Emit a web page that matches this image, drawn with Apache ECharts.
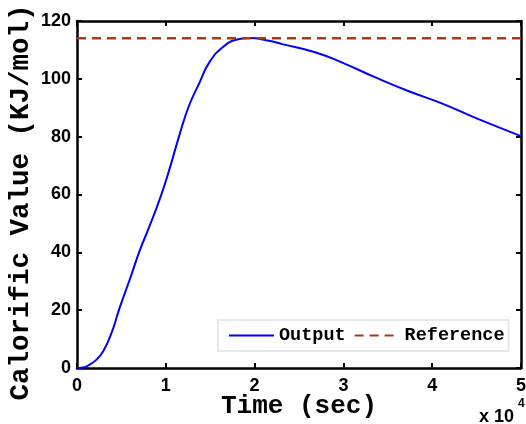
<!DOCTYPE html>
<html>
<head>
    <meta charset="utf-8">
    <title>Calorific Value</title>
    <script src="https://cdn.jsdelivr.net/npm/echarts@6/dist/echarts.min.js"></script>
    <style>
        html, body { margin: 0; padding: 0; background: #fff; }
        #main { width: 526px; height: 424px; }
    </style>
</head>
<body>
    <div id="main"></div>
    <script>
        // 数据：时间 (秒) 与输出热值
        const timeSec = [0, 500, 1100, 2200, 2950, 3900, 4800, 5950, 7050, 8000, 9300, 10400, 11500, 12600,
            13800, 14900, 16400, 17900, 19400, 21600, 23100, 26800, 29800, 33600, 37300, 41000, 44800, 50000];
        const outputVal = [0, 0.1, 0.6, 2.9, 5.8, 12.2, 20.8, 30.7, 40.5, 47.8, 58.2, 68.6, 80.2, 90.6,
            98.7, 105.7, 110.9, 113.5, 114.1, 113.2, 112.0, 109.2, 105.7, 100.5, 95.8, 91.6, 86.6, 80.2];
        const refTime = [0, 50000];
        const refVal = [114, 114];
        const xTicks = ['0', '1', '2', '3', '4', '5'];

        const chart = echarts.init(document.getElementById('main'));

        const boxLine = { onZero: false, lineStyle: { color: '#000', width: 2.5 } };
        const inTick = { inside: true, length: 5, lineStyle: { color: '#000', width: 2 } };
        const tickFont = { color: '#000', fontFamily: 'Liberation Sans', fontWeight: 'bold', fontSize: 18 };

        chart.setOption({
            animation: false,
            grid: { left: 77, right: 5, top: 21, bottom: 56, outerBoundsMode: 'none', containLabel: false },
            legend: {
                left: 218, top: 320,
                itemWidth: 45, itemHeight: 12, itemGap: 8,
                padding: [6, 4, 6, 10],
                backgroundColor: '#fff',
                borderColor: '#e8e8e8', borderWidth: 2,
                itemStyle: { opacity: 0 },
                textStyle: { fontFamily: 'Liberation Mono', fontWeight: 'bold', fontSize: 18.5, color: '#000' },
                data: ['Output', 'Reference']
            },
            xAxis: [{
                type: 'value', min: 0, max: 50000, interval: 10000,
                name: 'Time (sec)', nameLocation: 'middle', nameGap: 25, nameMoveOverlap: false,
                nameTextStyle: { fontFamily: 'Liberation Mono', fontWeight: 'bold', fontSize: 26, color: '#000' },
                axisLine: boxLine, axisTick: inTick, splitLine: { show: false },
                axisLabel: Object.assign({ margin: 9, formatter: v => xTicks[Math.round(v / 10000)] }, tickFont)
            }, {
                type: 'value', position: 'top', min: 0, max: 50000, interval: 10000,
                axisLine: boxLine, axisTick: inTick, splitLine: { show: false },
                axisLabel: { show: false }
            }],
            yAxis: [{
                type: 'value', min: 0, max: 120, interval: 20,
                name: 'Calorific Value (KJ/mol)', nameLocation: 'middle', nameGap: 42, nameMoveOverlap: false,
                nameTextStyle: { fontFamily: 'Liberation Mono', fontWeight: 'bold', fontSize: 27.5, color: '#000', padding: [0, 16, 0, 0] },
                axisLine: boxLine, axisTick: inTick, splitLine: { show: false },
                axisLabel: Object.assign({ margin: 6 }, tickFont)
            }, {
                type: 'value', position: 'right', min: 0, max: 120, interval: 20,
                axisLine: boxLine, axisTick: inTick, splitLine: { show: false },
                axisLabel: { show: false }
            }],
            graphic: [
                { type: 'text', left: 479, top: 408, style: { text: 'x 10', fontFamily: 'Liberation Sans', fontWeight: 'bold', fontSize: 18, fill: '#000' } },
                { type: 'text', left: 518, top: 398, style: { text: '4', fontFamily: 'Liberation Sans', fontWeight: 'bold', fontSize: 12, fill: '#000' } }
            ],
            series: [{
                name: 'Output', type: 'line', smooth: 0.5, symbol: 'none',
                data: timeSec.map((t, i) => [t, outputVal[i]]),
                lineStyle: { color: '#0000ff', width: 2 },
                itemStyle: { color: '#0000ff' }
            }, {
                name: 'Reference', type: 'line', symbol: 'none',
                xAxisIndex: 1, yAxisIndex: 1,
                data: refTime.map((t, i) => [t, refVal[i]]),
                lineStyle: { color: '#a83c0c', width: 2.5, type: [9, 6] },
                itemStyle: { color: '#a83c0c' }
            }]
        });
    </script>
</body>
</html>
